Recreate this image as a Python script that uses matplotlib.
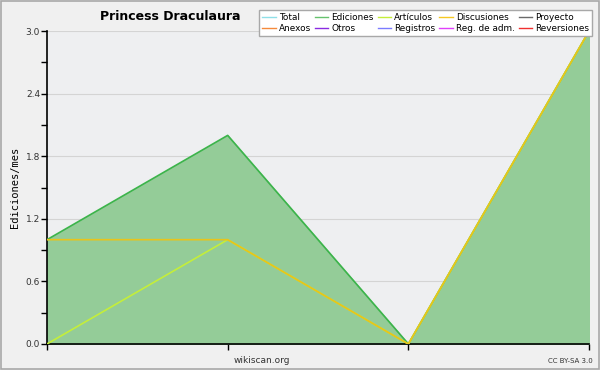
import matplotlib
matplotlib.use("Agg")
import matplotlib.pyplot as plt
from matplotlib.lines import Line2D
from matplotlib.patches import Rectangle

x = [0, 1, 2, 3]
ediciones = [1, 2, 0, 3]
articulos = [0, 1, 0, 3]
discusiones = [1, 1, 0, 3]

legend_labels = ["Total", "Ediciones", "Artículos", "Discusiones", "Proyecto",
                 "Anexos", "Otros", "Registros", "Reg. de adm.", "Reversiones"]
legend_colors = ["#8fe0e8", "#66c26e", "#c4ee3a", "#f5c823", "#6a6a6a",
                 "#f58a3c", "#8a2be2", "#7b7bff", "#e040fb", "#f03030"]
yticks = [0.0, 0.6, 1.2, 1.8, 2.4, 3.0]

fig = plt.figure(figsize=(6, 3.7), dpi=100)
fig.patch.set_facecolor("#f0f0f0")
fig.add_artist(Rectangle((0.002, 0.003), 0.996, 0.994, transform=fig.transFigure,
                         fill=False, edgecolor="#a8a8a8", linewidth=1.2))
ax = fig.add_axes([0.0783, 0.0703, 0.9034, 0.8457])
ax.set_facecolor("#eeeff1")

ax.fill_between(x, ediciones, color="#94cc98", zorder=2)
ax.plot(x, ediciones, color="#3cb44b", lw=1.2, zorder=3)
ax.plot(x, articulos, color="#c4ee3a", lw=1.2, zorder=4)
ax.plot(x, discusiones, color="#e8c41a", lw=1.2, zorder=5)

ax.set_xlim(0, 3)
ax.set_ylim(0, 3)
ax.set_yticks(yticks)
ax.set_yticklabels([f"{v:.1f}" for v in yticks], fontsize=6.5, color="#333333")
ax.set_yticks([0.3, 0.9, 1.5, 2.1, 2.7], minor=True)
ax.set_xticks(x)
ax.set_xticklabels([])
ax.grid(axis="y", color="#d4d4d4", lw=0.8, zorder=1)
ax.set_axisbelow(True)
for s in ["top", "right"]:
    ax.spines[s].set_visible(False)
ax.spines["left"].set_linewidth(1.2)
ax.spines["bottom"].set_linewidth(1.2)
ax.tick_params(axis="both", which="both", direction="out", length=4, width=1, pad=1)
ax.set_ylabel("Ediciones/mes", fontsize=7.5, family="DejaVu Sans Mono", labelpad=4)

fig.text(0.283, 0.955, "Princess Draculaura", fontsize=9, fontweight="bold",
         ha="center", va="center")
fig.text(0.437, 0.025, "wikiscan.org", fontsize=6.5, ha="center", va="center", color="#333333")
fig.text(0.95, 0.025, "CC BY-SA 3.0", fontsize=5, ha="center", va="center", color="#333333")

handles = [Line2D([0], [0], color=c, lw=1) for c in legend_colors]
order = [0, 5, 1, 6, 2, 7, 3, 8, 4, 9]
leg = fig.legend([handles[i] for i in order], [legend_labels[i] for i in order],
                 ncol=5, loc="upper right", bbox_to_anchor=(0.987, 0.972),
                 fontsize=6.4, frameon=True, fancybox=False, handlelength=1.5,
                 handletextpad=0.35, columnspacing=0.45, labelspacing=0.2,
                 borderpad=0.35, borderaxespad=0)
leg.get_frame().set_edgecolor("#a8a8a8")
leg.get_frame().set_facecolor("white")
leg.get_frame().set_alpha(1)

fig.savefig("out.png", dpi=100, facecolor=fig.get_facecolor())
